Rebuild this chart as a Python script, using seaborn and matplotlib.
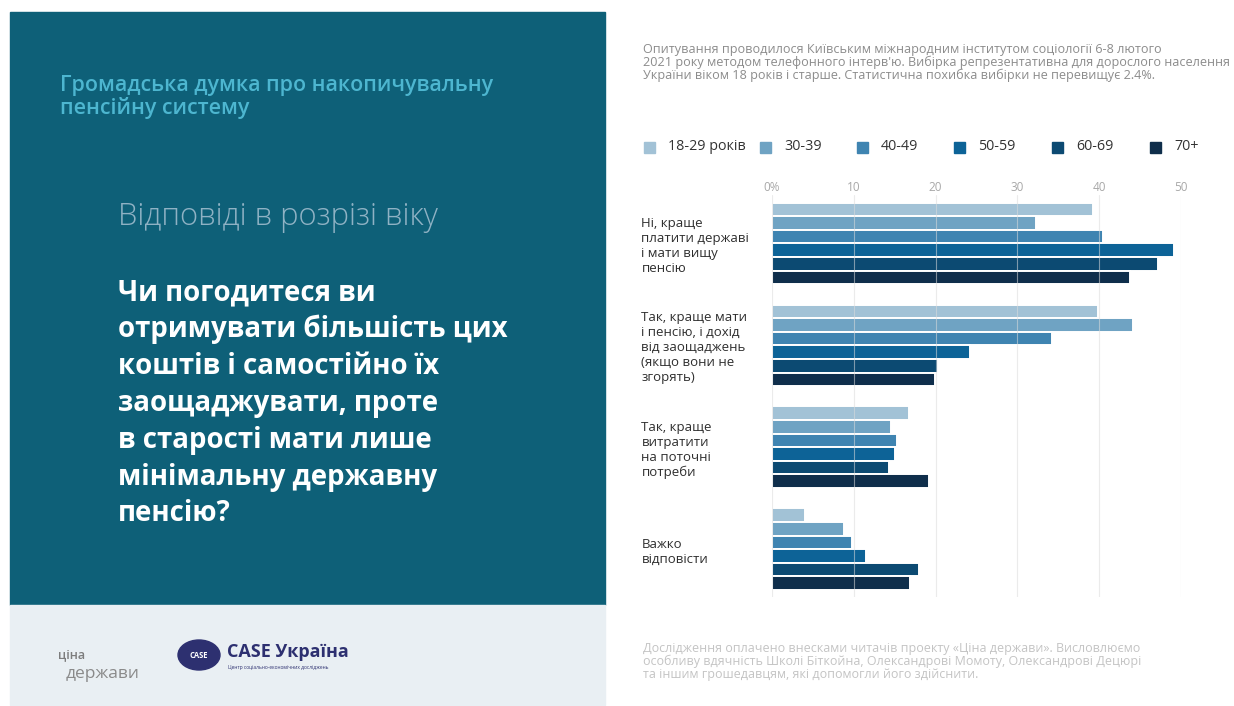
import matplotlib
matplotlib.use("Agg")
import matplotlib.pyplot as plt
from matplotlib.patches import Rectangle, Ellipse
import seaborn as sns
import pandas as pd

# ---------------- data ----------------
answers = [
    "Ні, краще\nплатити державі\nі мати вищу\nпенсію",
    "Так, краще мати\nі пенсію, і дохід\nвід заощаджень\n(якщо вони не\nзгорять)",
    "Так, краще\nвитратити\nна поточні\nпотреби",
    "Важко\nвідповісти",
]
age_groups = ["18-29 років", "30-39", "40-49", "50-59", "60-69", "70+"]
v_18_29 = [39.3, 39.9, 16.7, 4.0]
v_30_39 = [32.3, 44.1, 14.6, 8.8]
v_40_49 = [40.5, 34.2, 15.3, 9.8]
v_50_59 = [49.1, 24.2, 15.0, 11.5]
v_60_69 = [47.2, 20.3, 14.3, 18.0]
v_70p = [43.8, 19.9, 19.2, 16.9]
x_ticks = [0, 10, 20, 30, 40, 50]
x_ticklabels = ["0%", "10", "20", "30", "40", "50"]

palette = ["#a2c2d6", "#6fa3c3", "#3f84b1", "#0d6397", "#0c4a72", "#0f2e4b"]

series = [v_18_29, v_30_39, v_40_49, v_50_59, v_60_69, v_70p]
rows = []
for g, vals in zip(age_groups, series):
    for a, v in zip(answers, vals):
        rows.append({"answer": a, "age": g, "value": v})
df = pd.DataFrame(rows)

# ---------------- figure ----------------
W, H = 1234, 706
sns.set_theme(style="white")
plt.rcParams["font.family"] = ["Open Sans", "DejaVu Sans"]
fig = plt.figure(figsize=(W / 100, H / 100), dpi=100)
fig.patch.set_facecolor("white")


def fx(px):
    return px / W


def fy(py):
    return 1 - py / H


# left panels
fig.patches.append(Rectangle((fx(10), fy(605)), fx(595), 593 / H,
                             transform=fig.transFigure, color="#0e6078", zorder=0))
fig.patches.append(Rectangle((fx(10), fy(705)), fx(595), 100 / H,
                             transform=fig.transFigure, color="#e9eff3", zorder=0))

# chart axes
ax_l, ax_r, ax_t, ax_b = 772, 1181, 195, 597
ax = fig.add_axes([fx(ax_l), fy(ax_b), fx(ax_r - ax_l), (ax_b - ax_t) / H])
sns.barplot(data=df, y="answer", x="value", hue="age", order=answers,
            hue_order=age_groups, palette=palette, orient="h",
            width=0.8, edgecolor="white", linewidth=1.4, saturation=1,
            legend=False, ax=ax)
ax.set_xlim(0, 50)
ax.set_ylim(3.47, -0.476)
ax.set_xticks(x_ticks)
ax.set_xticklabels(x_ticklabels)
ax.xaxis.tick_top()
ax.tick_params(axis="x", length=0, pad=0.5, labelsize=8.5, labelcolor="#a8a8a8")
ax.tick_params(axis="y", length=0, pad=94, labelsize=9.5, labelcolor="#2e2e2e")
for lbl in ax.get_yticklabels():
    lbl.set_horizontalalignment("left")
    lbl.set_linespacing(1.2)
ax.set_xlabel("")
ax.set_ylabel("")
for s in ax.spines.values():
    s.set_visible(False)
ax.set_axisbelow(False)
ax.grid(axis="x", color="#dcdcdc", linewidth=0.8, alpha=0.55)
ax.grid(axis="y", visible=False)
ax.set_facecolor("none")

# legend (manual, row at top)
sq_x = [644, 760, 857, 954, 1052, 1150]
for x0, lab, c in zip(sq_x, age_groups, palette):
    fig.patches.append(Rectangle((fx(x0), fy(153)), fx(11), 11 / H,
                                 transform=fig.transFigure, color=c))
    fig.text(fx(x0 + 24), fy(147), lab, fontsize=10.3, color="#333333",
             va="center", ha="left")

# top note
fig.text(fx(643), fy(43),
         "Опитування проводилося Київським міжнародним інститутом соціології 6-8 лютого\n"
         "2021 року методом телефонного інтерв'ю. Вибірка репрезентативна для дорослого населення\n"
         "України віком 18 років і старше. Статистична похибка вибірки не перевищує 2.4%.",
         fontsize=9.1, color="#8c8c8c", va="top", ha="left", linespacing=0.98)

# bottom note
fig.text(fx(643), fy(642),
         "Дослідження оплачено внесками читачів проекту «Ціна держави». Висловлюємо\n"
         "особливу вдячність Школі Біткойна, Олександрові Момоту, Олександрові Децюрі\n"
         "та іншим грошедавцям, які допомогли його здійснити.",
         fontsize=9.0, color="#c4c4c4", va="top", ha="left", linespacing=0.98)

# left panel texts
fig.text(fx(60), fy(75), "Громадська думка про накопичувальну\nпенсійну систему",
         fontsize=15.4, color="#4db6d0", fontweight="semibold", va="top", ha="left",
         linespacing=1.03)
fig.text(fx(118), fy(217), "Відповіді в розрізі віку", fontsize=22.3,
         color="#8fb2c4", fontweight="light", va="center", ha="left")
fig.text(fx(118), fy(278),
         "Чи погодитеся ви\nотримувати більшість цих\nкоштів і самостійно їх\n"
         "заощаджувати, проте\nв старості мати лише\nмінімальну державну\nпенсію?",
         fontsize=19.9, color="white", fontweight="bold", va="top", ha="left",
         linespacing=1.355)

# logos (approximate, as text)
fig.text(fx(58), fy(655), "ціна", fontsize=9, color="#7d7d7d", fontweight="semibold",
         va="center", ha="left")
fig.text(fx(66), fy(674), "держави", fontsize=12.5, color="#8a8a8a", va="center", ha="left")
fig.patches.append(Ellipse((fx(199), fy(655)), fx(42), 30 / H, transform=fig.transFigure,
                           facecolor="#2d3070", edgecolor="#2d3070"))
fig.text(fx(199), fy(655), "CASE", fontsize=5.5, color="white", fontweight="bold",
         va="center", ha="center")
fig.text(fx(227), fy(652), "CASE Україна", fontsize=13, color="#2d3070",
         fontweight="bold", va="center", ha="left")
fig.text(fx(228), fy(667), "Центр соціально-економічних досліджень", fontsize=3.5,
         color="#2d3070", va="center", ha="left")

fig.savefig("out.png", dpi=100)
